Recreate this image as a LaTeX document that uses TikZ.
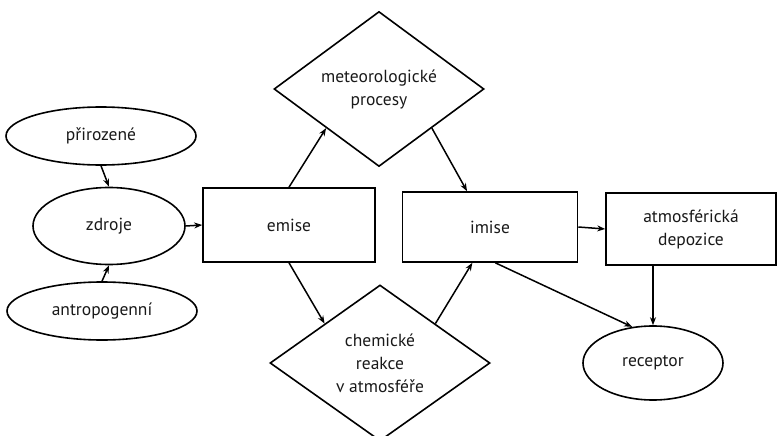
\documentclass[tikz,border=0pt]{standalone}
\usepackage{fontspec}
\setmainfont{PT Sans}
\usetikzlibrary{shapes.geometric,arrows.meta,calc}
\tikzset{
  every node/.style={font=\fontsize{17.5}{23}\selectfont, text=black!90, align=center, inner sep=0pt},
  oval/.style={draw, ellipse, line width=1.6pt},
  boxnode/.style={draw, rectangle, line width=1.6pt},
  dia/.style={draw, diamond, line width=1.6pt},
  conn/.style={line width=1.5pt, -{Stealth[length=8pt,width=6pt]}}
}
\begin{document}
\begin{tikzpicture}[x=1pt,y=-1pt]
\useasboundingbox (0,0) rectangle (777,436);
\node[oval, minimum width=190pt, minimum height=58pt] (prir) at (101,136) {přirozené};
\node[oval, minimum width=152pt, minimum height=77pt] (zdroje) at (109,226) {zdroje};
\node[oval, minimum width=190pt, minimum height=58pt] (antro) at (102,311) {antropogenní};
\node[boxnode, minimum width=172pt, minimum height=74pt] (emise) at (289,225) {emise};
\node[dia, minimum width=210pt, minimum height=155pt] (meteo) at (379,89) {meteorologické\\procesy};
\node[boxnode, minimum width=175pt, minimum height=70pt] (imise) at (490,227) {imise};
\node[boxnode, minimum width=170pt, minimum height=72pt] (atmo) at (691,229) {atmosférická\\depozice};
\node[oval, minimum width=140pt, minimum height=74pt] (rec) at (653,363) {receptor};
\node[dia, minimum width=220pt, minimum height=156pt] (chem) at (380,363) {chemické\\reakce\\v atmosféře};

\draw[conn] (prir.south) -- (zdroje.north);
\draw[conn] (antro.north) -- (zdroje.south);
\draw[conn] (zdroje.east) -- (emise.west);
\draw[conn] (emise.north) -- (meteo.south west);
\draw[conn] (meteo.south east) -- ($(imise.north west)!0.37!(imise.north east)$);
\draw[conn] (emise.south) -- (chem.north west);
\draw[conn] (chem.north east) -- ($(imise.south west)!0.40!(imise.south east)$);
\draw[conn] ($(imise.south west)!0.53!(imise.south east)$) -- (rec.120);
\draw[conn] (imise.east) -- (atmo.west);
\draw[conn] (rec.north |- atmo.south) -- (rec.north);
\end{tikzpicture}
\end{document}
